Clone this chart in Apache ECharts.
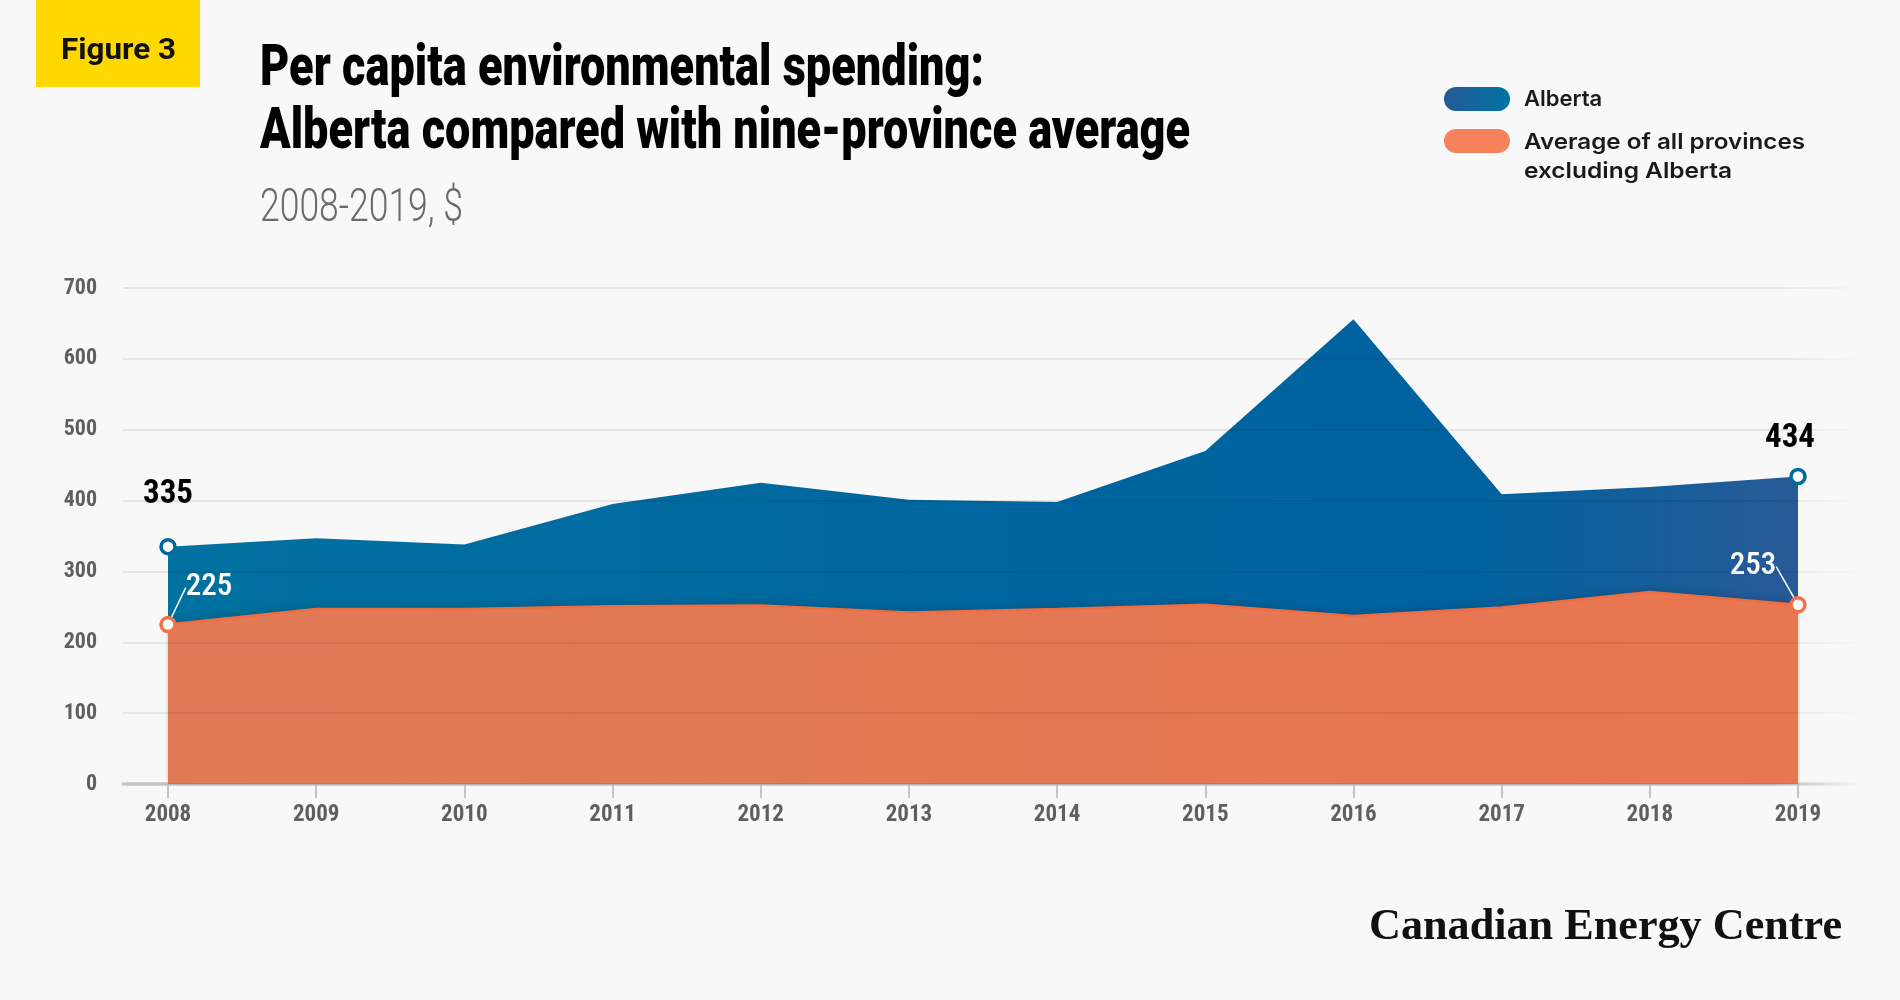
<!DOCTYPE html>
<html><head><meta charset="utf-8">
<script src="https://cdn.jsdelivr.net/npm/echarts@6/dist/echarts.min.js"></script>
<style>html,body{margin:0;padding:0;background:#f8f8f8;}#chart{width:1900px;height:1000px;}</style>
</head><body><div id="chart"></div>
<script>
// ---- data ----
const years = ['2008','2009','2010','2011','2012','2013','2014','2015','2016','2017','2018','2019'];
const alberta = [335, 347, 338, 395, 425, 401, 398, 470, 656, 409, 419, 434];
const provAvg = [225, 247, 247, 251, 252, 242, 247, 253, 237, 249, 271, 253];
const seriesNames = ['Alberta', 'Average of all provinces excluding Alberta'];
const legendLines = [['Alberta'], ['Average of all provinces', 'excluding Alberta']];
const figureTag = 'Figure 3';
const titleLines = ['Per capita environmental spending:', 'Alberta compared with nine-province average'];
const subtitle = '2008-2019, $';
const sourceText = 'Canadian Energy Centre';
const yMin = 0, yMax = 700, yStep = 100;

// ---- helpers ----
const mctx = document.createElement('canvas').getContext('2d');
function fit(text, font, w) { mctx.font = font; return w / mctx.measureText(text).width; }
const narrow = "'Roboto Condensed','Liberation Sans Narrow','Arial Narrow',Roboto,sans-serif";
function txt(x, y, text, font, fill, w, align) {
  const s = w ? fit(text, font, w) : 1;
  return { type: 'text', x: x, y: y, scaleX: s, silent: true,
    style: { text: text, font: font, fill: fill, textAlign: align || 'left', align: align || 'left',
             textVerticalAlign: 'middle', verticalAlign: 'middle' } };
}

const chart = echarts.init(document.getElementById('chart'));
const last = years.length - 1;
const ends = (arr) => arr.map((v, i) => (i === 0 || i === last) ? { value: v, label: { show: true } } : v);

const blueGrad = new echarts.graphic.LinearGradient(0, 0, 1, 0, [
  { offset: 0, color: '#0071a1' }, { offset: 0.55, color: '#00659f' },
  { offset: 0.8, color: '#00629f' }, { offset: 1, color: '#275a97' }]);
const orangeGrad = new echarts.graphic.LinearGradient(0, 0, 1, 0, [
  { offset: 0, color: '#e07a56' }, { offset: 1, color: '#e87651' }]);
const gridFade = new echarts.graphic.LinearGradient(0, 0, 1, 0, [
  { offset: 0, color: 'rgba(0,0,0,0.10)' }, { offset: 0.95, color: 'rgba(0,0,0,0.10)' }, { offset: 1, color: 'rgba(0,0,0,0)' }]);
const baseFade = new echarts.graphic.LinearGradient(0, 0, 1, 0, [
  { offset: 0, color: '#d2d2d2' }, { offset: 0.95, color: '#d2d2d2' }, { offset: 1, color: 'rgba(210,210,210,0)' }]);

const option = {
  backgroundColor: '#f8f8f8',
  animation: false,
  grid: [
    { left: 123, right: 40, top: 288, bottom: 216 },
    { left: 168, right: 102, top: 288, bottom: 216 }
  ],
  xAxis: [
    { gridIndex: 0, type: 'value', min: 0, max: 1, z: 1,
      axisLine: { show: true, lineStyle: { color: baseFade, width: 4 } },
      axisTick: { show: false }, axisLabel: { show: false }, splitLine: { show: false } },
    { gridIndex: 1, type: 'category', data: years, boundaryGap: false, z: 3,
      axisLine: { show: false },
      axisTick: { show: true, length: 14, alignWithLabel: true, lineStyle: { color: '#c4c4c4', width: 2 } },
      axisLabel: { margin: 20, color: '#5f5f5f', fontSize: 23, fontWeight: 'bold', fontFamily: narrow } }
  ],
  yAxis: [
    { gridIndex: 0, type: 'value', min: yMin, max: yMax, interval: yStep, z: 10,
      axisLine: { show: false }, axisTick: { show: false },
      axisLabel: { margin: 26, color: '#5f5f5f', fontSize: 22, fontWeight: 'bold', fontFamily: narrow },
      splitLine: { show: true, lineStyle: { color: gridFade, width: 1.5 } } },
    { gridIndex: 1, type: 'value', min: yMin, max: yMax, interval: yStep, show: false,
      splitLine: { show: false } }
  ],
  series: [
    { name: seriesNames[0], type: 'line', xAxisIndex: 1, yAxisIndex: 1, data: ends(alberta), z: 2,
      symbol: 'circle', symbolSize: (v, p) => (p.dataIndex === 0 || p.dataIndex === last) ? 14 : 0,
      showSymbol: true,
      itemStyle: { color: '#ffffff', borderColor: '#0068a1', borderWidth: 3.5 },
      lineStyle: { width: 0, color: '#0068a1' },
      areaStyle: { color: blueGrad, opacity: 1 },
      emphasis: { disabled: true },
      label: { show: false, position: 'inside', color: '#000', fontSize: 33, fontWeight: 'bold', fontFamily: narrow },
      labelLayout: (p) => p.dataIndex === 0 ? { dx: 0, dy: -52 } : { dx: -8, dy: -38 }
    },
    { name: seriesNames[1], type: 'line', xAxisIndex: 1, yAxisIndex: 1, data: ends(provAvg), z: 4,
      symbol: 'circle', symbolSize: (v, p) => (p.dataIndex === 0 || p.dataIndex === last) ? 14 : 0,
      showSymbol: true,
      itemStyle: { color: '#ffffff', borderColor: '#f07246', borderWidth: 3.5 },
      lineStyle: { width: 2.5, color: '#ef6d41' },
      areaStyle: { color: orangeGrad, opacity: 1, shadowColor: 'rgba(0,0,0,0.18)', shadowBlur: 10, shadowOffsetY: -2 },
      emphasis: { disabled: true },
      label: { show: false, position: 'inside', color: '#ffffff', fontSize: 31, fontWeight: 500, fontFamily: narrow },
      labelLine: { show: true, lineStyle: { color: '#ffffff', width: 1.5 } },
      labelLayout: (p) => p.dataIndex === 0 ? { dx: 41, dy: -37 } : { dx: -45, dy: -38 }
    }
  ],
  graphic: [
    { type: 'rect', silent: true, shape: { x: 36, y: 0, width: 164, height: 87 }, style: { fill: '#ffd800' } },
    txt(61, 51, figureTag, '700 30px Roboto', '#111', 115),
    txt(260, 70, titleLines[0], '900 58px Roboto', '#000', 724),
    txt(260, 133, titleLines[1], '900 58px Roboto', '#000', 930),
    txt(260, 209, subtitle, '300 46px Roboto', '#6a6a6a', 203),
    { type: 'rect', silent: true, shape: { x: 1444, y: 87, width: 66, height: 24, r: 12 },
      style: { fill: new echarts.graphic.LinearGradient(0, 0, 1, 0, [{ offset: 0, color: '#245a98' }, { offset: 1, color: '#0073a3' }]) } },
    { type: 'rect', silent: true, shape: { x: 1444, y: 129, width: 66, height: 24, r: 12 }, style: { fill: '#f5825a' } },
    txt(1524, 99, legendLines[0][0], '600 22px Inter', '#1a1a1a'),
    txt(1524, 142, legendLines[1][0], '600 22px Inter', '#1a1a1a', 281),
    txt(1524, 171, legendLines[1][1], '600 22px Inter', '#1a1a1a', 208),
    txt(1842, 927, sourceText, 'bold 45px "Liberation Serif"', '#111', 473, 'right')
  ]
};
chart.setOption(option);
</script></body></html>
